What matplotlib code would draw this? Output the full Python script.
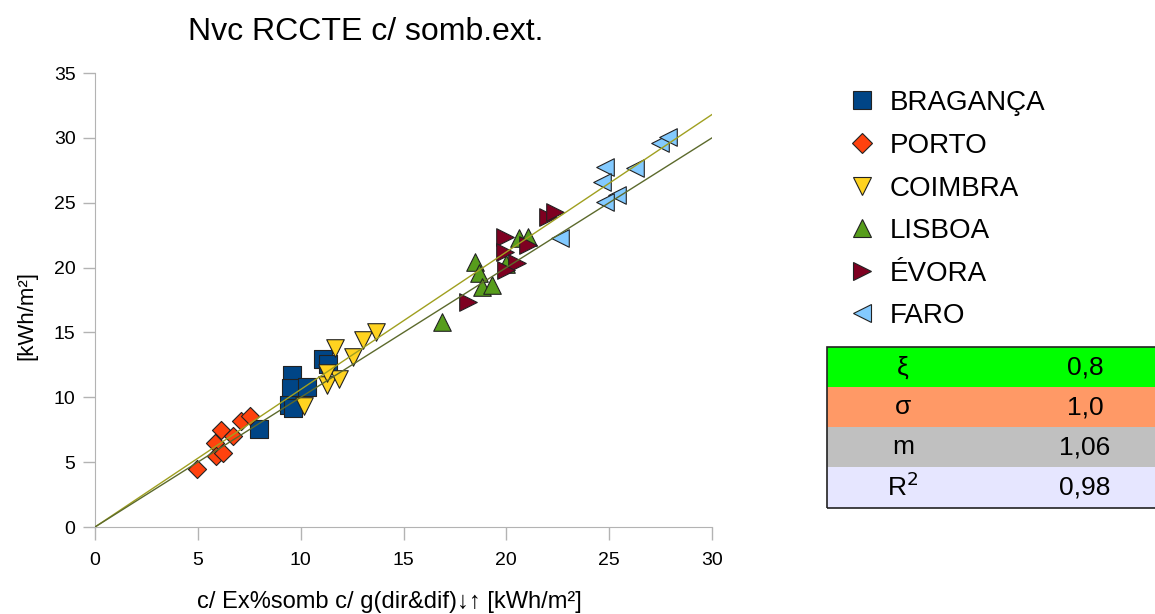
import matplotlib
matplotlib.use("Agg")
import matplotlib.pyplot as plt
from matplotlib.patches import Rectangle

plt.rcParams['font.family'] = ['Liberation Sans', 'DejaVu Sans']

title = "Nvc RCCTE c/ somb.ext."
xlabel = "c/ Ex%somb c/ g(dir&dif)↓↑ [kWh/m²]"
ylabel = "[kWh/m²]"

braganca_x = [7.97, 9.59, 9.51, 10.29, 9.45, 9.64, 11.07, 11.34]
braganca_y = [7.53, 11.7, 10.7, 10.8, 9.4, 9.15, 12.93, 12.6]
porto_x = [4.94, 6.13, 5.83, 5.87, 6.24, 6.72, 7.10, 7.54]
porto_y = [4.45, 7.48, 6.45, 5.47, 5.73, 7.00, 8.15, 8.56]
coimbra_x = [11.67, 12.56, 13.05, 13.66, 11.26, 11.88, 11.26, 10.16]
coimbra_y = [13.8, 13.1, 14.4, 15.06, 10.95, 11.4, 11.85, 9.33]
lisboa_x = [16.85, 18.47, 18.68, 18.80, 19.28, 19.98, 20.63, 21.07]
lisboa_y = [15.83, 20.46, 19.56, 18.53, 18.66, 20.28, 22.26, 22.38]
evora_x = [18.12, 19.93, 19.93, 20.50, 20.00, 21.07, 22.04, 22.36]
evora_y = [17.37, 22.38, 21.23, 20.33, 19.80, 21.74, 23.90, 24.30]
faro_x = [22.60, 24.80, 24.63, 25.36, 24.80, 26.25, 27.47, 27.87]
faro_y = [22.26, 27.78, 26.62, 25.60, 25.08, 27.65, 29.58, 30.09]

series_names = ["BRAGANÇA", "PORTO", "COIMBRA", "LISBOA", "ÉVORA", "FARO"]
series_x = [braganca_x, porto_x, coimbra_x, lisboa_x, evora_x, faro_x]
series_y = [braganca_y, porto_y, coimbra_y, lisboa_y, evora_y, faro_y]
series_colors = ["#004586", "#ff420e", "#ffd320", "#579d1c", "#7e0021", "#83caff"]
series_markers = ["s", "D", "v", "^", ">", "<"]
series_sizes = [160, 85, 160, 160, 160, 160]

fit_slopes = [1.06, 1.0]
fit_colors = ["#a0a020", "#5c6a2c"]
fit_xrange = [0, 30]

table_labels = ["ξ", "σ", "m", "R$^2$"]
table_values = ["0,8", "1,0", "1,06", "0,98"]
table_colors = ["#00ff00", "#ff9966", "#c0c0c0", "#e6e6ff"]

fig = plt.figure(figsize=(11.55, 6.14), dpi=100)
ax = fig.add_axes([95/1155, 87/614, (712-95)/1155, (527-73)/614])

for name, xs, ys, c, m, s in zip(series_names, series_x, series_y, series_colors, series_markers, series_sizes):
    ax.scatter(xs, ys, s=s, c=c, marker=m, edgecolors="#222222", linewidths=0.8, label=name, zorder=3)

for k, c in zip(fit_slopes, fit_colors):
    ax.plot(fit_xrange, [k * v for v in fit_xrange], color=c, lw=1.0, zorder=4)

ax.set_xlim(0, 30)
ax.set_ylim(0, 35)
ax.set_xticks(range(0, 31, 5))
ax.set_yticks(range(0, 36, 5))
for sp in ["top", "right"]:
    ax.spines[sp].set_visible(False)
for sp in ["left", "bottom"]:
    ax.spines[sp].set_color("#b3b3b3")
ax.tick_params(axis="both", colors="#b3b3b3", labelcolor="black", labelsize=14, length=9, width=1)
ax.tick_params(axis="x", pad=9)
ax.tick_params(axis="y", pad=5)

fig.text(366/1155, 1 - 32/614, title, ha="center", va="center", fontsize=23)
fig.text(389/1155, 1 - 602/614, xlabel, ha="center", va="center", fontsize=17)
fig.text(27/1155, 1 - 315/614, ylabel, ha="center", va="center", fontsize=16, rotation=90)

# legend
leg_y = [100, 143, 186, 228, 271, 313]
for name, c, m, yy in zip(series_names, series_colors, series_markers, leg_y):
    fig.add_artist(plt.Line2D([862/1155], [1 - yy/614], marker=m, color=c, markeredgecolor="#222222",
                              markeredgewidth=0.8, markersize=13 if m != "D" else 10, linestyle="none",
                              transform=fig.transFigure))
    fig.text(890/1155, 1 - (yy + 3)/614, name, ha="left", va="center", fontsize=20)

# table
tx0, tx1 = 827, 1155
row_tops = [347, 387, 427, 467]
row_h = 40.5
for lab, val, col, top in zip(table_labels, table_values, table_colors, row_tops):
    fig.add_artist(Rectangle((tx0/1155, 1 - (top + row_h)/614), (tx1 - tx0)/1155, row_h/614,
                             facecolor=col, edgecolor="none", transform=fig.transFigure))
    cy = 1 - (top + row_h/2)/614
    fig.text(903/1155, cy, lab, ha="center", va="center", fontsize=19)
    fig.text(1085/1155, cy, val, ha="center", va="center", fontsize=19)
fig.add_artist(Rectangle((tx0/1155, 1 - 508/614), (tx1 - tx0 + 5)/1155, (508 - 347)/614,
                         facecolor="none", edgecolor="#222222", lw=1.2, transform=fig.transFigure))

fig.savefig("out.png", dpi=100)
